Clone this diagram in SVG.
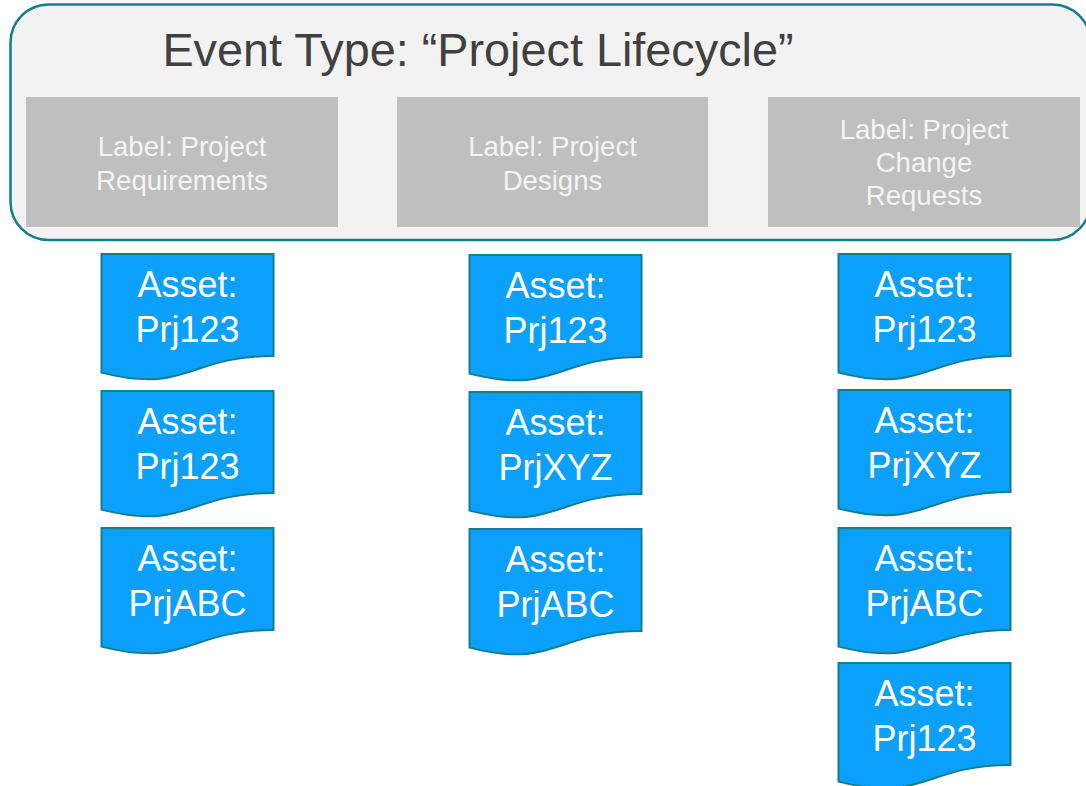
<svg xmlns="http://www.w3.org/2000/svg" xmlns:xlink="http://www.w3.org/1999/xlink" width="1086" height="786" viewBox="0 0 1086 786">
<style>
.outer{fill:#f2f2f2;stroke:#127f8c;stroke-width:2.5}
.title{font-family:"Liberation Sans",Arial,sans-serif;font-size:46.8px;fill:#404040;text-anchor:middle}
.lbl{fill:#bfbfbf}
.lt{font-family:"Liberation Sans",Arial,sans-serif;font-size:27.6px;fill:#f4f4f4;text-anchor:middle}
.doc{fill:#0ba0fc;stroke:#127f8c;stroke-width:2}
.dt{font-family:"Liberation Sans",Arial,sans-serif;font-size:36px;fill:#ffffff;text-anchor:middle}
</style>
<defs>
<path id="docShape" d="M0,0 H172 V102 C86,102 86,140.6 0,118.6 Z"/>
</defs>
<rect width="1086" height="786" fill="#ffffff"/>
<g id="event-type">
<rect class="outer" x="10.5" y="4.5" width="1080" height="235.5" rx="38" ry="38"/>
<text class="title" x="478" y="66">Event Type: “Project Lifecycle”</text>
</g>
<g id="label-requirements">
<rect class="lbl" x="26" y="97" width="312" height="130"/>
<text class="lt" x="182" y="156">Label: Project</text>
<text class="lt" x="182" y="190">Requirements</text>
</g>
<g id="label-designs">
<rect class="lbl" x="397" y="97" width="311" height="130"/>
<text class="lt" x="552.5" y="156">Label: Project</text>
<text class="lt" x="552.5" y="190">Designs</text>
</g>
<g id="label-change-requests">
<rect class="lbl" x="768" y="97" width="312" height="130"/>
<text class="lt" x="924" y="139">Label: Project</text>
<text class="lt" x="924" y="172">Change</text>
<text class="lt" x="924" y="205">Requests</text>
</g>
<g id="connectors"/>
<g id="asset-1-1" transform="translate(101.5,254)">
<use xlink:href="#docShape" class="doc"/>
<text class="dt" x="86" y="43">Asset:</text>
<text class="dt" x="86" y="88">Prj123</text>
</g>
<g id="asset-1-2" transform="translate(101.5,391)">
<use xlink:href="#docShape" class="doc"/>
<text class="dt" x="86" y="43">Asset:</text>
<text class="dt" x="86" y="88">Prj123</text>
</g>
<g id="asset-1-3" transform="translate(101.5,528)">
<use xlink:href="#docShape" class="doc"/>
<text class="dt" x="86" y="43">Asset:</text>
<text class="dt" x="86" y="88">PrjABC</text>
</g>
<g id="asset-2-1" transform="translate(469.5,255)">
<use xlink:href="#docShape" class="doc"/>
<text class="dt" x="86" y="43">Asset:</text>
<text class="dt" x="86" y="88">Prj123</text>
</g>
<g id="asset-2-2" transform="translate(469.5,392)">
<use xlink:href="#docShape" class="doc"/>
<text class="dt" x="86" y="43">Asset:</text>
<text class="dt" x="86" y="88">PrjXYZ</text>
</g>
<g id="asset-2-3" transform="translate(469.5,529)">
<use xlink:href="#docShape" class="doc"/>
<text class="dt" x="86" y="43">Asset:</text>
<text class="dt" x="86" y="88">PrjABC</text>
</g>
<g id="asset-3-1" transform="translate(838.5,254)">
<use xlink:href="#docShape" class="doc"/>
<text class="dt" x="86" y="43">Asset:</text>
<text class="dt" x="86" y="88">Prj123</text>
</g>
<g id="asset-3-2" transform="translate(838.5,390)">
<use xlink:href="#docShape" class="doc"/>
<text class="dt" x="86" y="43">Asset:</text>
<text class="dt" x="86" y="88">PrjXYZ</text>
</g>
<g id="asset-3-3" transform="translate(838.5,528)">
<use xlink:href="#docShape" class="doc"/>
<text class="dt" x="86" y="43">Asset:</text>
<text class="dt" x="86" y="88">PrjABC</text>
</g>
<g id="asset-3-4" transform="translate(838.5,663)">
<use xlink:href="#docShape" class="doc"/>
<text class="dt" x="86" y="43">Asset:</text>
<text class="dt" x="86" y="88">Prj123</text>
</g>
</svg>
